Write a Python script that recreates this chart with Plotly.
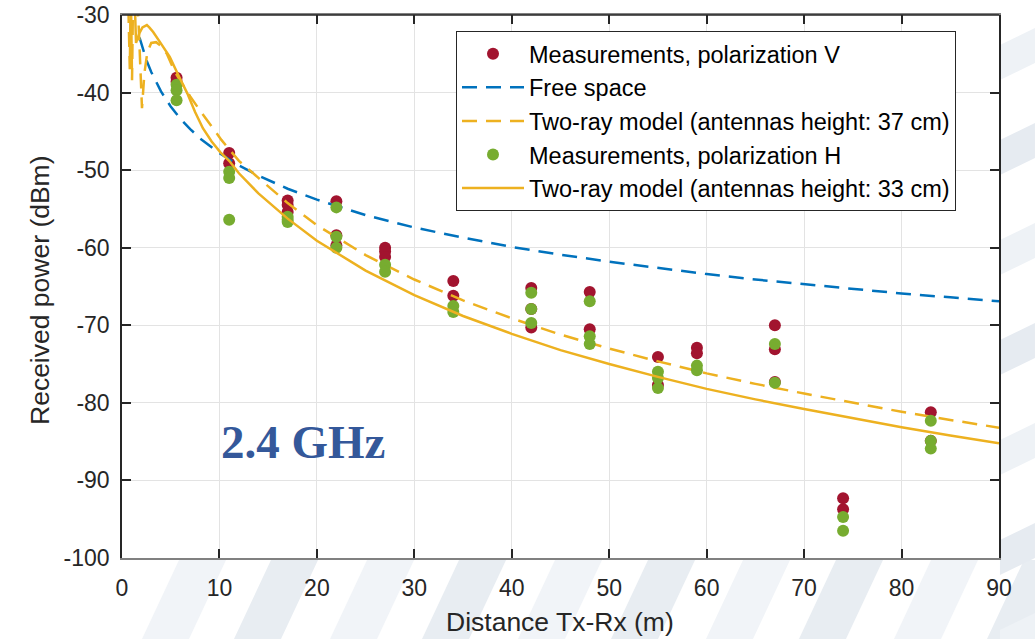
import plotly.graph_objects as go

# ---------------- data ----------------
meas_v_x = [5.6, 5.6, 11, 11, 17, 17, 17, 22, 22, 22, 27, 27, 27, 34, 34,
            42, 42, 42, 48, 48, 55, 55, 59, 59, 67, 67, 67, 74, 74, 83, 83]
meas_v_y = [-38.1, -38.6, -47.8, -49.1, -53.9, -54.5, -55.4, -54.0, -58.4, -59.7,
            -60.0, -60.5, -61.2, -64.3, -66.2, -65.2, -67.9, -70.3, -65.7, -70.5,
            -74.1, -77.7, -72.9, -73.6, -70.0, -73.1, -77.3, -92.3, -93.7, -81.2, -84.9]

meas_h_x = [5.6, 5.6, 5.6, 11, 11, 11, 17, 17, 17, 22, 22, 22, 27, 27, 34, 34,
            42, 42, 42, 48, 48, 48, 55, 55, 55, 59, 59, 67, 67, 74, 74, 83, 83, 83]
meas_h_y = [-39.0, -39.7, -41.0, -50.2, -51.0, -56.4, -56.0, -56.4, -56.7, -54.8, -58.6,
            -60.0, -62.2, -63.1, -67.5, -68.3, -65.8, -67.9, -69.7, -66.9, -71.4, -72.4,
            -76.0, -76.8, -78.1, -75.2, -75.8, -72.4, -77.4, -94.7, -96.5, -82.3, -84.9, -85.9]

free_x = [1.8, 2, 2.5, 3, 3.5, 4, 5, 6, 7, 8, 10, 12, 14, 17, 20, 25, 30, 35, 40,
          45, 50, 55, 60, 65, 70, 75, 80, 85, 90]
free_y = [-32.9, -33.8, -35.8, -37.35, -38.7, -39.85, -41.8, -43.4, -44.7, -45.9, -47.8,
          -49.4, -50.7, -52.4, -53.8, -55.8, -57.4, -58.7, -59.9, -60.9, -61.8, -62.6,
          -63.4, -64.1, -64.7, -65.3, -65.9, -66.4, -66.9]

tr37_x = [0.6, 0.8, 0.9, 1.03, 1.15, 1.5, 1.7, 2.05, 2.3, 2.6, 3.0, 3.5, 4.0, 4.6, 5.4,
          6.2, 7.0, 8.0, 8.7, 10.2, 11, 12, 14, 17, 20, 25, 30, 35, 40, 45, 50, 55,
          60, 65, 70, 75, 80, 85, 90]
tr37_y = [-26, -37, -26, -38.4, -26, -26, -31, -42, -37.5, -34.8, -33.6, -33.5, -34.0,
          -35.0, -37.3, -38.9, -40.5, -42.3, -43.5, -46.1, -47.3, -48.8, -51.0, -54.25,
          -57.1, -60.95, -64.1, -66.8, -69.1, -71.2, -73.0, -74.65, -76.2, -77.55,
          -78.8, -80.0, -81.15, -82.2, -83.2]

tr33_x = [1.0, 1.25, 1.44, 1.8, 2.1, 2.55, 2.8, 3.2, 3.9, 4.9, 5.8, 6.7, 7.5, 8.3, 9.2,
          10.1, 11, 12, 14, 17, 20, 25, 30, 35, 40, 45, 50, 55, 60, 65, 70, 75, 80,
          85, 90]
tr33_y = [-26, -26, -33.6, -32.3, -31.6, -31.3, -31.6, -32.2, -33.5, -35.4, -37.8, -40.1,
          -42.5, -44.6, -46.3, -47.7, -48.8, -50.4, -53.0, -56.25, -59.1, -62.95, -66.1,
          -68.8, -71.1, -73.2, -75.0, -76.65, -78.2, -79.55, -80.8, -82.0, -83.15,
          -84.2, -85.2]

names = ["Measurements, polarization V", "Free space",
         "Two-ray model (antennas height: 37 cm)",
         "Measurements, polarization H",
         "Two-ray model (antennas height: 33 cm)"]

x_ticks = [0, 10, 20, 30, 40, 50, 60, 70, 80, 90]
y_ticks = [-100, -90, -80, -70, -60, -50, -40, -30]
y_tick_text = ["-100", "-90", "-80", "-70", "-60", "-50", "-40", "-30"]

RED, BLUE, ORANGE, GREEN = "#a2142f", "#0072bd", "#edb120", "#77ac30"
TXT = "#262626"
FONT = "Liberation Sans, Arial, sans-serif"

fig = go.Figure()
fig.add_trace(go.Scatter(x=meas_v_x, y=meas_v_y, mode="markers", name=names[0],
                         marker=dict(color=RED, size=12)))
fig.add_trace(go.Scatter(x=free_x, y=free_y, mode="lines", name=names[1],
                         line=dict(color=BLUE, width=2.5, dash="15px,9px")))
fig.add_trace(go.Scatter(x=tr37_x, y=tr37_y, mode="lines", name=names[2],
                         line=dict(color=ORANGE, width=2.5, dash="15px,9px")))
fig.add_trace(go.Scatter(x=meas_h_x, y=meas_h_y, mode="markers", name=names[3],
                         marker=dict(color=GREEN, size=12)))
fig.add_trace(go.Scatter(x=tr33_x, y=tr33_y, mode="lines", name=names[4],
                         line=dict(color=ORANGE, width=2.5)))

# ---------------- decorative background stripes (outside the axes) ----------------
W, H = 1035, 639
L, R, T, B = 122, 999, 15, 558


def px(xp, yp):
    return (xp - L) / (R - L), (B - yp) / (B - T)


shapes = []
bottom_starts = [142, 234, 330, 422, 518, 611, 706, 799, 894, 987]
for i, x0 in enumerate(bottom_starts):
    pts = [(x0, 639), (x0 + 47, 639), (x0 + 47 + 37, 560), (x0 + 37, 560)]
    path = "M " + " L ".join("%.4f,%.4f" % px(a, b) for a, b in pts) + " Z"
    shapes.append(dict(type="path", xref="paper", yref="paper", path=path,
                       fillcolor="#f1f4f8" if i % 2 == 0 else "#e8edf2",
                       line=dict(width=0), layer="below"))
right_starts = [45, 140, 240, 340, 440, 540, 630]
for i, y0 in enumerate(right_starts):
    pts = [(1000, y0), (1035, y0 - 17), (1035, y0 - 17 + 35), (1000, y0 + 35)]
    path = "M " + " L ".join("%.4f,%.4f" % px(a, b) for a, b in pts) + " Z"
    shapes.append(dict(type="path", xref="paper", yref="paper", path=path,
                       fillcolor="#eef2f6" if i % 2 == 0 else "#e6ebf1",
                       line=dict(width=0), layer="below"))
# black top border of the box
shapes.append(dict(type="line", xref="paper", yref="paper", x0=0, x1=1, y0=1, y1=1,
                   line=dict(color=TXT, width=1.5), layer="above"))

axis_common = dict(showgrid=True, gridcolor="#e3e3e3", gridwidth=1, zeroline=False,
                   showline=True, linewidth=1.5, mirror="ticks", ticks="inside",
                   ticklen=9, tickwidth=1.5, tickcolor=TXT,
                   tickfont=dict(family=FONT, size=23, color=TXT), tickmode="array")

fig.update_layout(
    width=W, height=H,
    margin=dict(l=L, r=W - R, t=T, b=H - B, autoexpand=False),
    paper_bgcolor="white", plot_bgcolor="white",
    xaxis=dict(range=[0, 90], linecolor="#808080", ticklabelstandoff=9,
               tickvals=x_ticks, ticktext=[str(v) for v in x_ticks], **axis_common),
    yaxis=dict(range=[-100, -30], linecolor=TXT, ticklabelstandoff=6,
               tickvals=y_ticks, ticktext=y_tick_text, **axis_common),
    showlegend=True,
    legend=dict(x=(456 - L) / (R - L), y=(B - 31) / (B - T), xanchor="left", yanchor="top",
                bgcolor="white", bordercolor=TXT, borderwidth=1, itemwidth=62,
                font=dict(family=FONT, size=23.5, color="black"), tracegroupgap=0),
    shapes=shapes,
    annotations=[
        dict(text="<b>2.4 GHz</b>", x=10.0, y=-85.1, xref="x", yref="y",
             xanchor="left", yanchor="middle", showarrow=False,
             font=dict(family="Liberation Serif, Times New Roman, serif", size=47,
                       color="#34589a")),
        dict(text="Received power (dBm)", x=(40 - L) / (R - L), y=(B - 290) / (B - T),
             xref="paper", yref="paper", textangle=-90, showarrow=False,
             xanchor="center", yanchor="middle",
             font=dict(family=FONT, size=26.5, color=TXT)),
        dict(text="Distance Tx-Rx (m)", x=(560 - L) / (R - L), y=(B - 622) / (B - T),
             xref="paper", yref="paper", showarrow=False,
             xanchor="center", yanchor="middle",
             font=dict(family=FONT, size=26.5, color=TXT)),
    ],
)

fig.write_html("out.html")
